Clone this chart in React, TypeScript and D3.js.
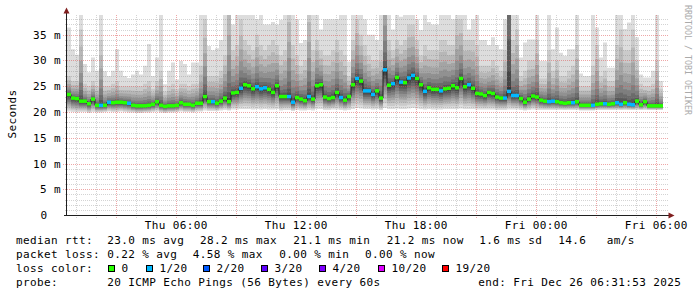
import React from 'react';
import * as d3 from 'd3';

// ---- time frame ----
const START = Date.UTC(2025, 11, 25, 0, 31, 53);
const END = Date.UTC(2025, 11, 26, 6, 31, 53);
const STEP_MIN = 12;

// ---- data (ms), one value per 12-minute step ----
const median = [
  23.4,22.7,22.6,22.1,22.1,21.6,22.5,21.3,21.3,21.3,
  21.9,21.8,21.9,21.9,21.8,21.7,21.3,21.2,21.2,21.2,
  21.3,21.5,22.0,21.3,21.1,21.2,21.2,21.3,21.8,21.5,
  21.5,21.3,21.7,21.7,23.0,22.0,22.0,21.7,22.1,22.7,
  22.0,23.7,23.8,24.6,25.3,25.1,24.5,24.9,24.5,24.7,
  24.4,23.8,25.1,23.0,23.0,23.0,21.9,22.8,22.5,22.2,
  23.0,22.5,25.1,25.3,22.9,22.6,22.8,23.8,22.8,22.3,
  23.0,25.3,26.5,26.0,24.1,24.1,23.4,24.1,22.7,28.2,
  25.2,25.5,26.7,25.8,25.7,26.6,27.1,26.5,25.3,24.0,
  24.7,24.4,24.4,24.1,24.5,24.6,25.1,24.7,26.5,24.9,
  25.3,24.6,23.6,23.5,23.2,23.8,23.6,22.9,22.7,22.7,
  24.0,23.2,23.2,22.6,21.9,22.5,23.1,22.9,22.3,22.1,
  22.0,22.1,22.0,21.8,21.7,21.8,21.8,22.0,21.3,21.3,
  21.3,21.3,21.5,21.6,21.6,21.5,21.6,21.8,21.5,21.8,
  21.5,21.4,22.1,21.4,22.0,21.2,21.2,21.2,21.2,
];

// lost pings out of 20
const loss = [
  0,0,0,0,0,0,0,0,1,0,
  1,0,0,0,0,1,0,0,0,0,
  0,0,0,0,0,0,0,0,0,0,
  0,0,0,0,0,0,1,0,0,0,
  0,0,0,1,0,0,0,1,1,1,
  0,0,0,0,0,1,1,0,0,0,
  1,0,0,0,0,0,0,0,1,0,
  0,0,1,0,1,1,1,0,0,1,
  0,1,0,1,0,1,1,0,0,1,
  0,0,0,1,0,0,0,0,0,0,
  1,0,0,0,0,0,0,0,0,1,
  1,1,1,0,0,0,0,0,0,0,
  1,1,0,0,0,0,1,0,0,0,
  0,1,0,0,1,0,0,1,1,0,
  1,1,0,0,0,0,0,0,0,
];

// highest ping of the step
const smokeMax = [
  36.4,32.2,31.1,39,29.3,27.7,30.6,28.0,39,27.9,
  27.0,28.0,32.2,28.0,27.0,26.6,27.3,28.0,27.3,29.0,
  33.2,27.0,30.6,39,25.4,28.0,29.6,26.3,29.9,29.3,
  27.3,29.6,29.6,39,39,32.8,32.0,32.4,34.0,39,
  39,37,39,39,39,39,39,38,39,37,
  37,37.5,37,37.9,39,39,39,38,33.4,34,
  39,39,39,36,38,38,38,38,39,39,
  29.8,39,39,39,38,35,35,34,39,39,
  39,36,39,38.5,39,39,39,38,35.9,39,
  37.5,37,37,39,39,39,38,39,39,39,
  36,38,39,34,34,33,34.5,33,32.2,38,
  39,39,39,30.6,33.5,34.1,34.1,39,29.9,29.9,
  39,32.2,36.4,31.5,30.9,32.2,32.2,39,27.5,27,
  27,39,36.4,30.6,33.5,28.6,28.6,39,39,36.1,
  37.4,39,34.5,27.3,26.7,26.7,28,39,26,
];

// upper spread of the step (top of the inner smoke)
const smokeUpper = [
  27,26,26,36,25.5,25,26,25,34,25,
  25,25.5,26,25,25,25,25,25,25,25.5,
  26,24.5,26,28,24,25,25.5,24.5,25.5,25.5,
  25,25.5,25.5,29,38,27,27,27,28,31,
  45,32,33,38,34,33,32,35,33,32,
  33,34,33,31,32,42,33,31,29,30,
  42,32,34,32,31,31,32,34,32,31,
  27,34,38,35,33,31,30,30,32,50,
  34,32,34,33,34,37,37,34,31,33,
  32,32,32,34,34,33,33,38,38,34,
  34,34,33,29,29,29,30,29,28,32,
  150,34,36,27,28,30,30,34,26.5,26.5,
  32,28,30,27,27,28,29,33,25,25,
  25,29,33,27,28,26,26,33,36,32,
  32,36,30,25.5,25,25,25.5,30,24.5,
];

// lowest ping of the step
const smokeMin = [
  20.1,20.0,19.9,20.0,20.0,19.8,20.0,19.9,19.9,20.0,
  20.1,20.0,20.0,20.1,20.0,19.9,19.9,19.8,19.8,19.9,
  19.9,20.0,20.1,19.9,19.8,19.9,19.9,20.0,20.1,20.0,
  20.0,19.9,20.1,20.1,20.3,20.2,20.2,20.2,20.3,20.4,
  20.3,20.5,20.5,20.6,20.6,20.6,20.5,20.6,20.5,20.6,
  20.5,20.5,20.6,20.3,20.4,20.4,20.2,20.4,20.3,20.3,
  20.4,20.3,20.6,20.6,20.4,20.4,20.5,20.5,20.4,20.3,
  20.4,20.6,20.8,20.7,20.6,20.6,20.5,20.6,20.4,20.8,
  20.6,20.6,20.7,20.6,20.6,20.7,20.8,20.7,20.6,20.5,
  20.6,20.5,20.5,20.5,20.6,20.6,20.6,20.6,20.7,20.6,
  20.6,20.6,20.5,20.5,20.5,20.5,20.5,20.4,20.4,20.4,
  20.5,20.5,20.5,20.4,20.3,20.4,20.5,20.4,20.4,20.4,
  20.4,20.4,20.4,20.4,20.4,20.4,20.4,20.4,20.3,20.3,
  20.3,20.3,20.4,20.4,20.4,20.4,20.4,20.4,20.4,20.4,
  20.4,20.4,20.4,20.4,20.4,20.4,20.4,20.4,20.4,
];

const yTicks = [0, 5, 10, 15, 20, 25, 30, 35];

const lossKeys = [0, 1, 2, 3, 4, 10, 19];
const lossLabels = ['0', '1/20', '2/20', '3/20', '4/20', '10/20', '19/20'];
const lossColors = ['#26ff00', '#00b8ff', '#0059ff', '#5e00ff', '#7e00ff', '#dd00ff', '#ff0000'];
const lossBoxX = [108, 146, 203, 261, 319, 378, 442];

const legendRows = [
  [['median rtt:', 16], ['23.0 ms avg', 107.3], ['28.2 ms max', 200], ['21.1 ms min', 293.3], ['21.2 ms now', 386.7], ['1.6 ms sd', 479.3], ['14.6', 558.3], ['am/s', 606.7]],
  [['packet loss:', 16], ['0.22 % avg', 107.3], ['4.58 % max', 192.7], ['0.00 % min', 279.3], ['0.00 % now', 365]],
  [['loss color:', 16]],
  [['probe:', 16], ['20 ICMP Echo Pings (56 Bytes) every 60s', 107.3], ['end: Fri Dec 26 06:31:53 2025', 478.3]],
] as [string, number][][];
const legendBaselines = [244, 258, 272, 286];

const W = 697;
const H = 297;
const FONT = "'DejaVu Sans Mono', monospace";

export default function App() {
  const x = d3.scaleUtc().domain([new Date(START), new Date(END)]).range([67, 667]);
  const y = d3.scaleLinear().domain([0, 200 / 5.15]).range([215, 15]);
  const t = (i: number) => new Date(START + i * STEP_MIN * 60000);
  const px = (v: number) => Math.round(v) + 0.5;

  const n = median.length;
  const idx = d3.range(n);
  const pts: [number, number][] = idx.flatMap((i) => [[x(t(i)), i], [x(t(i + 1)), i]] as [number, number][]);

  const topOf = (i: number) => Math.max(smokeMax[i], smokeUpper[i]);
  const upperBound = (b: number, i: number) => {
    if (b === 0) return topOf(i);
    const f = Math.pow((10 - b) / 9, 2.3);
    return Math.min(topOf(i), median[i] + (smokeUpper[i] - median[i]) * f);
  };
  const lowerBound = (b: number, i: number) => median[i] - (median[i] - smokeMin[i]) * Math.pow((10 - b) / 10, 1.2);

  const bands = d3.range(10).map((b) => {
    const g = 221 - 19 * b;
    const area = d3
      .area<[number, number]>()
      .x((d) => d[0])
      .y0((d) => y(lowerBound(b, d[1])))
      .y1((d) => y(upperBound(b, d[1])));
    return { d: area(pts) || '', fill: `rgb(${g},${g},${g})` };
  });

  const medLine = d3
    .line<[number, number]>()
    .x((d) => d[0])
    .y((d) => y(median[d[1]]));

  const colorOfLoss = (l: number) => {
    let c = lossColors[0];
    lossKeys.forEach((k, j) => {
      if (l >= k) c = lossColors[j];
    });
    return c;
  };

  const hours = d3.utcHour.range(new Date(START), new Date(END + 1));
  const fmt = d3.utcFormat('%a %H:%M');
  const minorY = d3.range(1, 39).filter((v) => v % 5 !== 0);
  const majorY = yTicks.filter((v) => v > 0);

  return (
    <svg
      width={W}
      height={H}
      style={{ position: 'absolute', left: 0, top: 0, background: '#fff', display: 'block' }}
      fontFamily={FONT}
    >
      <rect x={0} y={0} width={W} height={H} fill="#ffffff" />
      <defs>
        <clipPath id="plot">
          <rect x={67} y={15} width={600} height={200} />
        </clipPath>
      </defs>

      {/* smoke */}
      <g clipPath="url(#plot)">
        {bands.map((b, k) => (
          <path key={k} d={b.d} fill={b.fill} />
        ))}
      </g>

      {/* grid */}
      <g fill="none" strokeDasharray="1 1" strokeWidth={1}>
        {minorY.map((v) => (
          <line key={'hy' + v} x1={65} x2={668} y1={px(y(v))} y2={px(y(v))} stroke="rgba(128,128,128,0.35)" />
        ))}
        {hours
          .filter((h) => h.getUTCHours() % 3 !== 0)
          .map((h) => (
            <line key={'vx' + +h} x1={px(x(h))} x2={px(x(h))} y1={15} y2={218} stroke="rgba(128,128,128,0.35)" />
          ))}
        {majorY.map((v) => (
          <line key={'my' + v} x1={63} x2={668} y1={px(y(v))} y2={px(y(v))} stroke="rgba(222,79,79,0.5)" />
        ))}
        {hours
          .filter((h) => h.getUTCHours() % 3 === 0)
          .map((h) => (
            <line key={'mx' + +h} x1={px(x(h))} x2={px(x(h))} y1={15} y2={219} stroke="rgba(222,79,79,0.5)" />
          ))}
      </g>

      {/* median */}
      <path d={medLine(pts) || ''} fill="none" stroke="#202020" strokeWidth={1} />
      {idx.map((i) => (
        <rect
          key={'m' + i}
          x={x(t(i))}
          width={x(t(i + 1)) - x(t(i))}
          y={y(median[i]) - 1.75}
          height={3.5}
          fill={colorOfLoss(loss[i])}
        />
      ))}

      {/* axes */}
      <line x1={66.5} x2={66.5} y1={216} y2={11} stroke="#1f1f1f" strokeWidth={1} />
      <line x1={64} x2={670} y1={215.5} y2={215.5} stroke="#1f1f1f" strokeWidth={1} />
      <path d="M63.5,13.5 L66.5,7.5 L69.5,13.5 Z" fill="#801f1f" />
      <path d="M668.5,212.5 L674.5,215.5 L668.5,218.5 Z" fill="#801f1f" />

      {/* axis labels */}
      <g fontSize={11} letterSpacing={0.38} fill="#000">
        {yTicks.map((v) => (
          <text key={'yl' + v} x={v === 0 ? 47.5 : 61} y={Math.round(y(v)) + 4} textAnchor="end">
            {v === 0 ? '0' : `${v} m`}
          </text>
        ))}
        {hours
          .filter((h) => h.getUTCHours() % 6 === 0)
          .map((h) => (
            <text key={'xl' + +h} x={x(h)} y={228.5} textAnchor="middle">
              {fmt(h)}
            </text>
          ))}
        <text transform="translate(15.5,114) rotate(-90)" textAnchor="middle">
          Seconds
        </text>
      </g>

      {/* watermark */}
      <text transform="translate(684.5,5) rotate(90)" fontSize={8.3} fill="#aaaaaa">
        RRDTOOL / TOBI OETIKER
      </text>

      {/* legend */}
      <g fontSize={11} letterSpacing={0.38} fill="#000">
        {legendRows.map((row, r) =>
          row.map(([s, lx], j) => (
            <text key={`lg${r}-${j}`} x={lx} y={legendBaselines[r]} xmlSpace="preserve">
              {s}
            </text>
          ))
        )}
        {lossLabels.map((lab, j) => (
          <g key={'lc' + j}>
            <rect x={lossBoxX[j] + 0.5} y={265.5} width={6} height={6} fill={lossColors[j]} stroke="#000" strokeWidth={1} />
            <text x={lossBoxX[j] + 13.5} y={legendBaselines[2]}>
              {lab}
            </text>
          </g>
        ))}
      </g>
    </svg>
  );
}
